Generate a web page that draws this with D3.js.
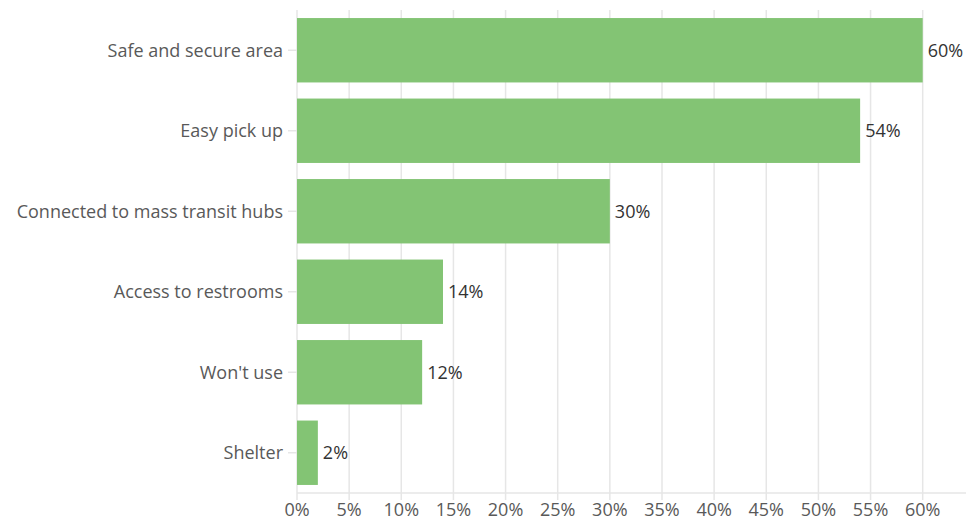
<!DOCTYPE html>
<html>
<head>
<meta charset="utf-8">
<script src="https://cdn.jsdelivr.net/npm/d3@7"></script>
<style>
  html, body { margin: 0; padding: 0; background: #fff; }
  svg text { font-family: "Open Sans", "Noto Sans", sans-serif; }
</style>
</head>
<body>
<svg id="chart" width="966" height="522"></svg>
<script>
// Survey answers and their share of respondents (%)
const categories = [
  "Safe and secure area",
  "Easy pick up",
  "Connected to mass transit hubs",
  "Access to restrooms",
  "Won't use",
  "Shelter"
];
const values = [60, 54, 30, 14, 12, 2];
const xTicks = [0, 5, 10, 15, 20, 25, 30, 35, 40, 45, 50, 55, 60];

const svg = d3.select("#chart");
const plotLeft = 297, plotRight = 966, plotTop = 10, plotBottom = 493;
const fontSize = 18;

const x = d3.scaleLinear().domain([0, 60]).range([plotLeft, 922.7]);
const y = d3.scaleBand().domain(categories).range([plotTop, plotBottom])
  .paddingInner(0.2).paddingOuter(0.1);

// vertical gridlines, extending slightly below the baseline as ticks
svg.append("g")
  .selectAll("line")
  .data(xTicks)
  .join("line")
  .attr("x1", d => x(d)).attr("x2", d => x(d))
  .attr("y1", plotTop).attr("y2", plotBottom + 7)
  .attr("stroke", "#e6e6e6").attr("stroke-width", 1.5);

// baseline
svg.append("line")
  .attr("x1", plotLeft).attr("x2", plotRight)
  .attr("y1", plotBottom).attr("y2", plotBottom)
  .attr("stroke", "#e6e6e6").attr("stroke-width", 1.5);

// x tick labels
svg.append("g")
  .selectAll("text")
  .data(xTicks)
  .join("text")
  .attr("x", d => x(d)).attr("y", 516)
  .attr("text-anchor", "middle")
  .attr("font-size", fontSize).attr("fill", "#595959")
  .text(d => d + "%");

// category ticks and labels
const cat = svg.append("g").selectAll("g")
  .data(categories)
  .join("g")
  .attr("transform", d => `translate(0,${y(d) + y.bandwidth() / 2})`);
cat.append("line")
  .attr("x1", plotLeft - 9).attr("x2", plotLeft)
  .attr("stroke", "#e6e6e6").attr("stroke-width", 1.5);
cat.append("text")
  .attr("x", plotLeft - 14).attr("dy", "0.35em")
  .attr("text-anchor", "end")
  .attr("font-size", fontSize).attr("fill", "#595959")
  .text(d => d);

// bars
svg.append("g")
  .selectAll("rect")
  .data(values)
  .join("rect")
  .attr("x", x(0))
  .attr("y", (d, i) => y(categories[i]))
  .attr("width", d => x(d) - x(0))
  .attr("height", y.bandwidth())
  .attr("fill", "#83c474");

// value labels
svg.append("g")
  .selectAll("text")
  .data(values)
  .join("text")
  .attr("x", d => x(d) + 5)
  .attr("y", (d, i) => y(categories[i]) + y.bandwidth() / 2)
  .attr("dy", "0.35em")
  .attr("font-size", fontSize).attr("fill", "#333")
  .text(d => d + "%");
</script>
</body>
</html>
